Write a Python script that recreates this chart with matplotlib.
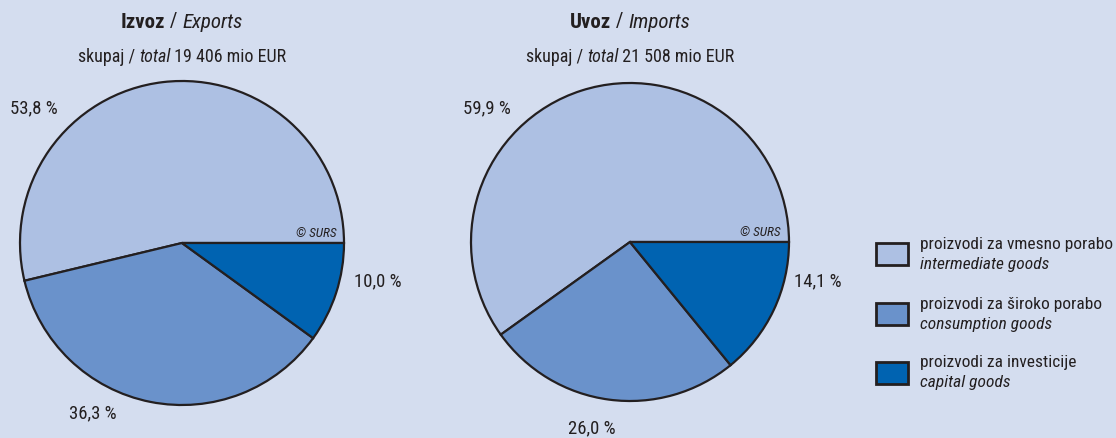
import matplotlib
matplotlib.use('Agg')
import matplotlib.pyplot as plt
from matplotlib import font_manager
from matplotlib.patches import Rectangle

# data
categories_sl = ['proizvodi za vmesno porabo', 'proizvodi za široko porabo', 'proizvodi za investicije']
categories_en = ['intermediate goods', 'consumption goods', 'capital goods']
exports_pct = [53.8, 36.3, 10.0]
imports_pct = [59.9, 26.0, 14.1]
exports_total = '19 406'
imports_total = '21 508'

colors = ['#adc0e3', '#6a92cb', '#0063b1']
bg = '#d4ddef'
edge = '#231f20'
txt = '#231f20'

# a condensed face is closest to the original; fall back if none is around
names = {f.name for f in font_manager.fontManager.ttflist}
family = 'DejaVu Sans'
for cand in ['Roboto Condensed', 'Archivo Narrow', 'Liberation Sans Narrow', 'Liberation Sans']:
    if cand in names:
        family = cand
        break
plt.rcParams['font.family'] = [family, 'DejaVu Sans']

fig = plt.figure(figsize=(11.16, 4.38), dpi=100, facecolor=bg)
ax = fig.add_axes([0, 0, 1, 1])
ax.set_facecolor(bg)
H = 438


def rich_text(x, y, pieces, size):
    # draw pieces side by side, centred as a group on x
    renderer = fig.canvas.get_renderer()
    objs = []
    for s, kw in pieces:
        t = ax.text(0, y, s, fontsize=size, color=txt, va='center', ha='left', **kw)
        objs.append(t)
    widths = [t.get_window_extent(renderer).width for t in objs]
    cur = x - sum(widths) / 2
    for t, w in zip(objs, widths):
        t.set_x(cur)
        cur += w


def draw_pie(cx, cy, r, vals, title_sl, title_en, total, lab_pos):
    ax.pie(vals, colors=colors, startangle=0, counterclock=True,
           center=(cx, H - cy), radius=r, frame=True,
           wedgeprops=dict(edgecolor=edge, linewidth=1.6))
    rich_text(cx, H - 22, [(title_sl, dict(fontweight='bold')), (' / ', {}),
                           (title_en, dict(style='italic'))], 15)
    rich_text(cx, H - 57, [('skupaj / ', {}), ('total', dict(style='italic')),
                           (' ' + total + ' mio EUR', {})], 13)
    ax.text(cx + r - 8, H - cy + 3, '© SURS', fontsize=9.5, style='italic',
            color=txt, ha='right', va='bottom')
    for v, (lx, ly) in zip(vals, lab_pos):
        ax.text(lx, H - ly, f'{v:.1f} %'.replace('.', ','), fontsize=13.5,
                color=txt, ha='center', va='center')


draw_pie(182, 243, 162, exports_pct, 'Izvoz', 'Exports', exports_total,
         [(34, 108), (93, 413), (378, 281)])
draw_pie(630, 242, 159, imports_pct, 'Uvoz', 'Imports', imports_total,
         [(487, 108), (592, 428), (818, 281)])

# legend
box_y = [254, 314, 373]
for c, sl, en, y in zip(colors, categories_sl, categories_en, box_y):
    ax.add_patch(Rectangle((876, H - y - 11), 32, 22, facecolor=c,
                           edgecolor=edge, linewidth=2))
    ax.text(920, H - y + 10, sl, fontsize=12.5, color=txt, va='center', ha='left')
    ax.text(920, H - y - 10, en, fontsize=12.5, color=txt, va='center', ha='left',
            style='italic')

ax.set_xlim(0, 1116)
ax.set_ylim(0, H)
ax.set_aspect('auto')
ax.axis('off')

fig.savefig('out.png', dpi=100, facecolor=bg)
